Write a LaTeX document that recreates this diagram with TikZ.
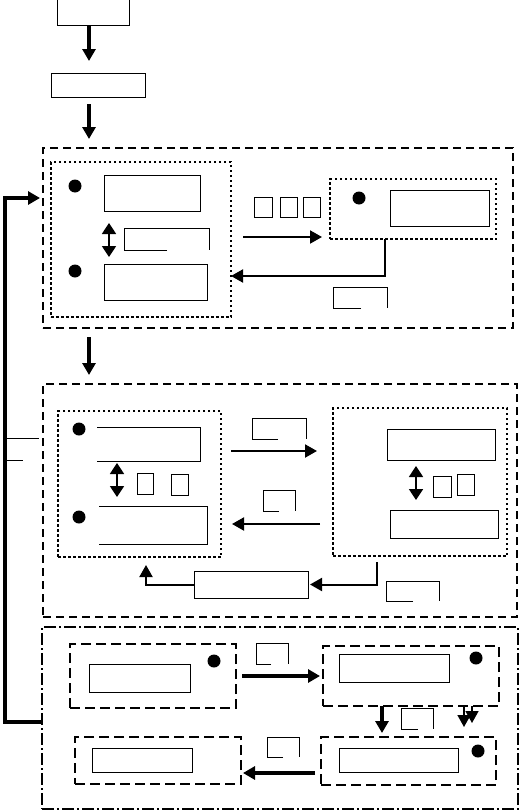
\documentclass[tikz,border=0pt]{standalone}
\usetikzlibrary{arrows.meta,calc,positioning}
\tikzset{
  box/.style={draw=black,line width=1pt,inner sep=0pt,outer sep=0pt},
  stage/.style={draw=black,line width=1.8pt,dash pattern=on 8pt off 5pt,inner sep=0pt,outer sep=0pt},
  part/.style={stage,dash pattern=on 10pt off 5pt},
  group/.style={draw=black,line width=2.4pt,dash pattern=on 2.5pt off 2.5pt,inner sep=0pt,outer sep=0pt},
  block/.style={draw=black,line width=1.6pt,dash pattern=on 12pt off 3pt on 2pt off 3pt,inner sep=0pt,outer sep=0pt},
  flow/.style={-{Triangle[length=12pt,width=13pt]},line width=2pt},
  heavy/.style={flow,line width=3.2pt},
  drop/.style={-{Triangle[length=12pt,width=13pt]},line width=1.6pt},
  swap/.style={{Triangle[length=11pt,width=14pt]}-{Triangle[length=11pt,width=14pt]},line width=1.8pt},
  bullet/.style={circle,fill=black,inner sep=0pt,minimum size=13pt},
  tag/.style={black,line width=1pt},
}
\begin{document}
\begin{tikzpicture}[x=1pt,y=-1pt]
  \useasboundingbox (0,0) rectangle (520,811);

  % input chain
  \node[box,minimum width=72,minimum height=30] (src) at (93,10) {};
  \node[box,minimum width=94,minimum height=24] (pre) at (98,85) {};
  \draw[heavy] ([xshift=-4pt]src.south) -- ([xshift=-9pt,yshift=12pt]pre.north);

  % stage one
  \node[stage,minimum width=470,minimum height=180] (stageA) at (278,238) {};
  \draw[heavy] ([xshift=-9pt,yshift=-7pt]pre.south) -- ++(0,35);
  \node[group,minimum width=180,minimum height=155] (grpA) at (141,239.5) {};
  \node[bullet] (dotA1) at (75,186) {};
  \node[bullet] (dotA2) at (75,271) {};
  \node[box,minimum width=96,minimum height=36] (a1) at (152,193) {};
  \node[box,minimum width=103,minimum height=36] (a2) at (155.5,282) {};
  \draw[swap] ([xshift=-43pt,yshift=-12pt]a1.south) -- ([xshift=-46.5pt,yshift=7pt]a2.north);
  \draw[tag] (167,250) -| (124,228) -| (209,250);

  \node[group,minimum width=166,minimum height=60] (grpB) at (413,209) {};
  \node[bullet] (dotB) at (359,198) {};
  \node[box,minimum width=99,minimum height=36] (b1) at (439.5,208) {};
  \node[box,minimum width=18,minimum height=20] (sq1) at (263,207) {};
  \node[box,minimum width=17,minimum height=20] (sq2) at (288.5,207) {};
  \node[box,minimum width=17,minimum height=20] (sq3) at (311.5,207) {};
  \draw[flow] ([xshift=12pt,yshift=2.5pt]grpA.east) -- ([xshift=-8pt,yshift=-28pt]grpB.west);
  \draw[flow] ([xshift=-28pt]grpB.south) |- ([yshift=-36.5pt]grpA.east);
  \draw[tag] (361,308) -| (333,287) -| (387,308);

  % stage two
  \node[stage,minimum width=474,minimum height=233] (stageB) at (280,500.5) {};
  \draw[heavy] ([xshift=-189pt,yshift=-9pt]stageA.south) -- ++(0,38);
  \node[group,minimum width=163,minimum height=146] (grpC) at (139.5,484) {};
  \node[bullet] (dotC1) at (79,429) {};
  \node[bullet] (dotC2) at (79,517) {};
  \draw[box] (97,427) -| (200,461) -- (97,461);
  \draw[box] (99,506) -| (207,544) -- (99,544);
  \draw[swap] (117,463) -- (117,497);
  \node[box,minimum width=16,minimum height=21] (sq4) at (145,483.5) {};
  \node[box,minimum width=17,minimum height=21] (sq5) at (179.5,484.5) {};

  \node[group,minimum width=174,minimum height=148] (grpD) at (420,482) {};
  \node[box,minimum width=108,minimum height=31] (e1) at (441,444.5) {};
  \node[box,minimum width=108,minimum height=28] (e2) at (444,524) {};
  \draw[swap] ([xshift=-25pt,yshift=-6pt]e1.south) -- ([xshift=-28pt,yshift=10pt]e2.north);
  \node[box,minimum width=18,minimum height=21] (sq6) at (442,486.5) {};
  \node[box,minimum width=17,minimum height=21] (sq7) at (465.5,484.5) {};

  \draw[tag] (278,439) -| (252,418) -| (306,439);
  \draw[flow] ([xshift=10pt,yshift=33pt]grpC.east) -- ([xshift=-16pt,yshift=31pt]grpD.west);
  \draw[tag] (279,511) -| (263,490) -| (295,511);
  \draw[flow] ([xshift=-13pt,yshift=-42pt]grpD.west) -- ([xshift=11pt,yshift=-40pt]grpC.east);

  \node[box,minimum width=114,minimum height=27] (merge) at (251,584.5) {};
  \draw[flow] ([xshift=-43pt,yshift=-6pt]grpD.south) |- ([xshift=2pt]merge.east);
  \draw[flow] (merge.west) -| ([xshift=6.5pt,yshift=-8pt]grpC.south);
  \draw[tag] (413,601) -| (386,581) -| (439,601);

  \draw[tag] (7,438) -- (39,438);
  \draw[tag] (7,460) -- (23,460);

  % stage three
  \node[block,minimum width=476,minimum height=182] (stageC) at (280,718) {};
  \draw[heavy] ([yshift=-4pt]stageC.west) -- ++(-37,0) |- ([xshift=-3pt,yshift=40pt]stageA.west);

  \node[part,minimum width=166,minimum height=64] (f1) at (153,676) {};
  \node[box,minimum width=101,minimum height=28] (f1in) at (139.5,678) {};
  \node[bullet] (dotF1) at (214,661) {};
  \node[part,minimum width=166,minimum height=47] (f2) at (158,760.5) {};
  \node[box,minimum width=100,minimum height=24] (f2in) at (142,760) {};

  \node[part,minimum width=176,minimum height=60] (g1) at (411,676) {};
  \node[box,minimum width=110,minimum height=28] (g1in) at (394,668) {};
  \node[bullet] (dotG1) at (476,658) {};
  \node[part,minimum width=175,minimum height=48] (g2) at (408.5,761) {};
  \node[box,minimum width=119,minimum height=24] (g2in) at (398.5,760) {};
  \node[bullet] (dotG2) at (478,751) {};

  \draw[heavy] ([xshift=6pt]f1.east) -- ([xshift=-3pt]g1.west);
  \draw[tag] (271,664) -| (256,643) -| (288,664);
  \draw[heavy] ([xshift=-29pt]g1.south) -- ([xshift=-26.5pt,yshift=4pt]g2.north);
  \draw[tag] (418,729) -| (401,708) -| (433,729);
  \draw[drop] ([xshift=53pt]g1.south) -- ([xshift=55.5pt,yshift=10pt]g2.north);
  \draw[drop] ([xshift=61pt]g1.south) -- ([xshift=63.5pt,yshift=14pt]g2.north);
  \draw[heavy] ([xshift=-6pt,yshift=-12pt]g2.west) -- ([xshift=2pt,yshift=-12.5pt]f2.east);
  \draw[tag] (283,757) -| (267,737) -| (299,757);
\end{tikzpicture}
\end{document}
